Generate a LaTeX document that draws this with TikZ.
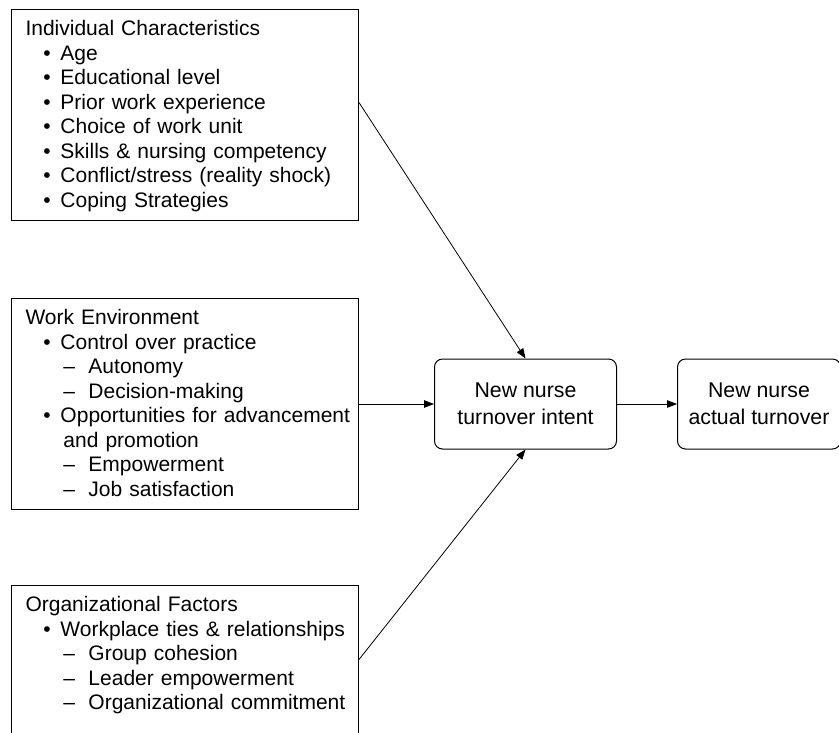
\documentclass[tikz,border=0pt]{standalone}
\usepackage{fontspec}
\setmainfont{Liberation Sans}
\usetikzlibrary{arrows.meta, positioning}
\tikzstyle{factor} = [rectangle, draw=black, line width=1pt, text width=339pt, align=left, inner xsep=4pt, inner ysep=0pt, text height=26pt, text depth=185pt, font=\fontsize{21}{24.5}\selectfont]
\tikzstyle{outcome} = [rectangle, rounded corners=8pt, draw=black, line width=1pt, minimum height=90pt, align=center, inner sep=0pt, font=\fontsize{21.3}{27}\selectfont]
\tikzstyle{arrow} = [line width=0.8pt, -{Triangle[length=10pt,width=7.5pt]}]
\newcommand{\hd}{\hspace*{10pt}}
\newcommand{\bul}{\hspace*{28pt}\makebox[17pt][l]{\textbullet}}
\newcommand{\dsh}{\hspace*{48pt}\makebox[25pt][l]{--}}
\newcommand{\cont}{\hspace*{48pt}}

\begin{document}
\begin{tikzpicture}[x=1pt, y=-1pt]
\useasboundingbox (0,0) rectangle (839,732);
\node(1)[factor, anchor=north west] at (11,9){\hd Individual Characteristics\\
\bul Age\\
\bul Educational level\\
\bul Prior work experience\\
\bul Choice of work unit\\
\bul Skills \& nursing competency\\
\bul Conflict/stress (reality shock)\\
\bul Coping Strategies};
\node(2)[factor, below = 77pt of 1]{\hd Work Environment\\
\bul Control over practice\\
\dsh Autonomy\\
\dsh Decision-making\\
\bul Opportunities for advancement\\
\cont and promotion\\
\dsh Empowerment\\
\dsh Job satisfaction};
\node(3)[factor, below = 75pt of 2]{\hd Organizational Factors\\
\bul Workplace ties \& relationships\\
\dsh Group cohesion\\
\dsh Leader empowerment\\
\dsh Organizational commitment};
\node(4)[outcome, minimum width=182pt, right = 75pt of 2]{New nurse\\turnover intent};
\node(5)[outcome, minimum width=163pt, right = 60pt of 4]{New nurse\\actual turnover};
\draw[arrow]([yshift=12.5pt]1.east) -- (4.north);
\draw[arrow](2) -- (4);
\draw[arrow]([yshift=31.5pt]3.east) -- (4.south);
\draw[arrow](4) -- (5);
\end{tikzpicture}
\end{document}
